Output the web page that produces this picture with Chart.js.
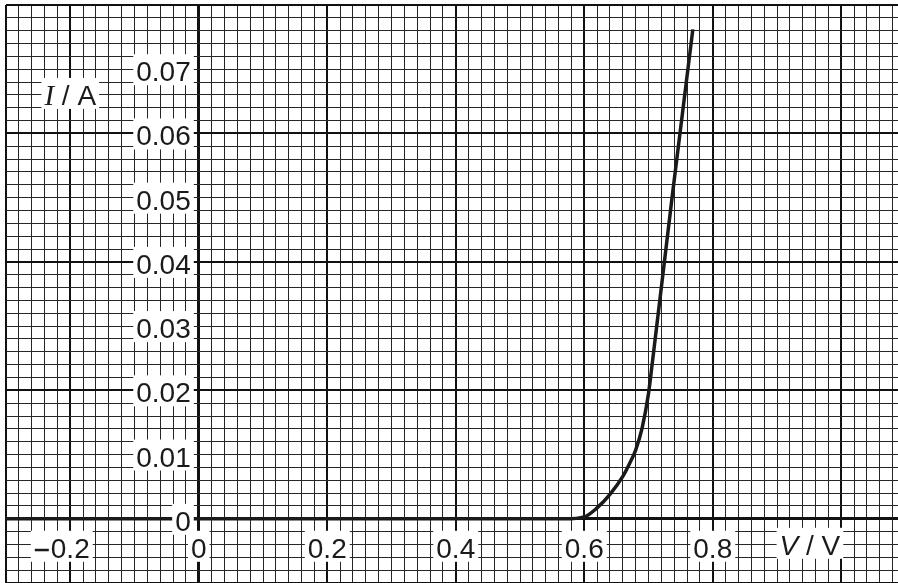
<!DOCTYPE html>
<html>
<head>
<meta charset="utf-8">
<script src="https://cdn.jsdelivr.net/npm/chart.js@4/dist/chart.umd.min.js"></script>
<style>
  html, body { margin: 0; padding: 0; background: #fff; }
  #wrap { width: 898px; height: 583px; }
</style>
</head>
<body>
<div id="wrap"><canvas id="chartIV" width="898" height="583"></canvas></div>
<script>
// diode I-V curve
const voltage = [-0.3, 0.57, 0.60, 0.62, 0.64, 0.66, 0.67, 0.68, 0.69, 0.70, 0.705, 0.737, 0.769];
const current = [0, 0, 0.0003, 0.0017, 0.0038, 0.0066, 0.0085, 0.0107, 0.0141, 0.0195, 0.0235, 0.0503, 0.0762];

const xTickValues = [-0.2, 0, 0.2, 0.4, 0.6, 0.8];
const xTickLabels = ['0.2', '0', '0.2', '0.4', '0.6', '0.8'];
const yTickValues = [0, 0.01, 0.02, 0.03, 0.04, 0.05, 0.06, 0.07];
const yTickLabels = ['0', '0.01', '0.02', '0.03', '0.04', '0.05', '0.06', '0.07'];

const xRange = [-0.3, 1.0883];
const yRange = [-0.01, 0.08];
const xStep = 0.02;
const yStep = 0.002;

const FONT = '28px "Liberation Sans", Arial, sans-serif';

// one grid line per small square of the paper
function paperTicks(min, max, step) {
    const out = [];
    for (let i = Math.ceil(min / step - 1e-6); i * step <= max + 1e-9; i++) {
        out.push({ value: i * step });
    }
    return out;
}

function gridStyle(step, min) {
    return {
        drawTicks: false,
        color: function(ctx) {
            const idx = Math.round(ctx.tick.value / step);
            if (idx === 0 || idx % 10 === 0 || Math.abs(ctx.tick.value - min) < 1e-9) return '#111';
            return '#262626';
        },
        lineWidth: function(ctx) {
            const idx = Math.round(ctx.tick.value / step);
            if (idx === 0) return 3;
            if (idx % 10 === 0 || Math.abs(ctx.tick.value - min) < 1e-9) return 2;
            return 1;
        }
    };
}

// white boxed text, centred on (cx, cy)
function boxText(ctx, parts, cx, cy, align) {
    let w = 0;
    parts.forEach(p => { ctx.font = p.font; p.w = ctx.measureText(p.text).width; w += p.w; });
    let left = align === 'right' ? cx - w : cx - w / 2;
    ctx.fillStyle = '#fff';
    ctx.fillRect(left - 3, cy - 17, w + 6, 31);
    ctx.fillStyle = '#1a1a1a';
    ctx.textBaseline = 'alphabetic';
    ctx.textAlign = 'left';
    let x = left;
    parts.forEach(p => {
        ctx.font = p.font;
        ctx.fillText(p.text, x, cy + 10);
        x += p.w;
    });
}

const labelsPlugin = {
    id: 'paperLabels',
    afterDraw: function(chart) {
        const ctx = chart.ctx;
        const xs = chart.scales.x;
        const ys = chart.scales.y;
        const x0 = xs.getPixelForValue(0);
        const y0 = ys.getPixelForValue(0);
        ctx.save();

        yTickValues.forEach((v, i) => {
            boxText(ctx, [{ text: yTickLabels[i], font: FONT }], x0 - 8, ys.getPixelForValue(v) + 2, 'right');
        });

        xTickValues.forEach((v, i) => {
            const cx = xs.getPixelForValue(v);
            const cy = y0 + 29;
            if (v < 0) {
                // short dash hangs left of the number
                ctx.font = FONT;
                const w = ctx.measureText(xTickLabels[i]).width;
                ctx.fillStyle = '#fff';
                ctx.fillRect(cx - w / 2 - 20, cy - 17, w + 23, 31);
                ctx.fillStyle = '#1a1a1a';
                ctx.textAlign = 'left';
                ctx.fillText(xTickLabels[i], cx - w / 2, cy + 10);
                ctx.fillRect(cx - w / 2 - 16, cy + 1, 14, 2.5);
            } else {
                boxText(ctx, [{ text: xTickLabels[i], font: FONT }], cx, cy, 'center');
            }
        });

        // axis titles
        boxText(ctx, [
            { text: 'V', font: 'italic ' + FONT },
            { text: ' / V', font: FONT }
        ], xs.getPixelForValue(1.0) - 1, y0 + 26, 'right');

        boxText(ctx, [
            { text: 'I', font: 'italic 29px "Liberation Serif", "Times New Roman", serif' },
            { text: ' / A', font: FONT }
        ], xs.getPixelForValue(-0.2), ys.getPixelForValue(0.066), 'center');

        ctx.restore();
    }
};

const points = voltage.map((v, i) => ({ x: v, y: current[i] }));

new Chart(document.getElementById('chartIV').getContext('2d'), {
    type: 'scatter',
    data: {
        datasets: [{
            data: points,
            showLine: true,
            borderColor: '#1a1a1a',
            borderWidth: 3.5,
            pointRadius: 0,
            cubicInterpolationMode: 'monotone',
            fill: false
        }]
    },
    options: {
        responsive: false,
        animation: false,
        layout: { padding: { left: 6, top: 5, right: 0, bottom: 0 } },
        plugins: {
            legend: { display: false },
            tooltip: { enabled: false }
        },
        scales: {
            x: {
                type: 'linear',
                min: xRange[0],
                max: xRange[1],
                ticks: { display: false, autoSkip: false },
                afterBuildTicks: scale => { scale.ticks = paperTicks(xRange[0], xRange[1], xStep); },
                grid: gridStyle(xStep, xRange[0]),
                border: { display: false }
            },
            y: {
                type: 'linear',
                min: yRange[0],
                max: yRange[1],
                ticks: { display: false, autoSkip: false },
                afterBuildTicks: scale => { scale.ticks = paperTicks(yRange[0], yRange[1], yStep); },
                grid: gridStyle(yStep, yRange[0]),
                border: { display: false }
            }
        }
    },
    plugins: [labelsPlugin]
});
</script>
</body>
</html>
